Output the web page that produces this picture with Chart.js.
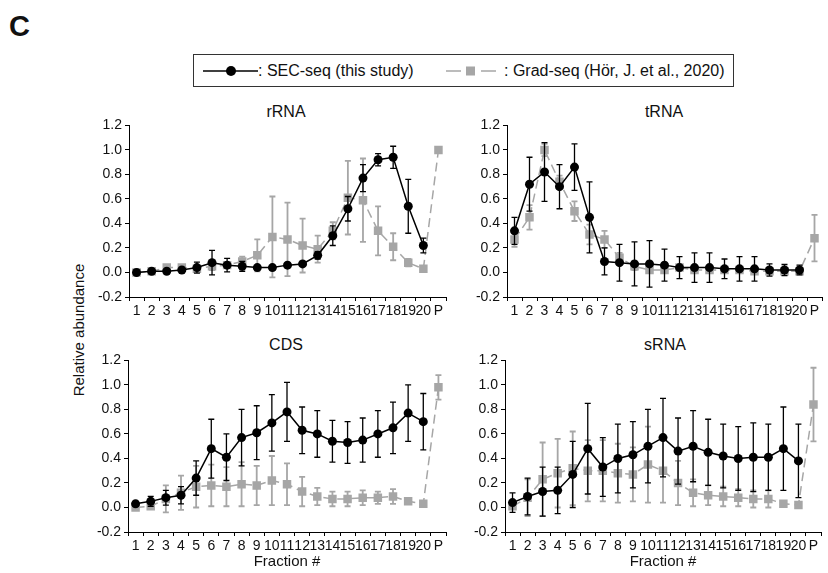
<!DOCTYPE html>
<html>
<head>
<meta charset="utf-8">
<script src="https://cdn.jsdelivr.net/npm/chart.js@4.4.1/dist/chart.umd.min.js"></script>
<style>
  html, body { margin: 0; padding: 0; background: #fff; }
  body { width: 828px; height: 573px; position: relative; overflow: hidden; font-family: "Liberation Sans", Arial, sans-serif; color: #111; }
  canvas { position: absolute; }
  .lbl { position: absolute; white-space: nowrap; }
  .title { font-size: 16px; line-height: 16px; transform: translateX(-50%); }
</style>
</head>
<body>
<div class="lbl" style="left:9px; top:12px; font-size:29px; line-height:29px; font-weight:bold;">C</div>

<div class="lbl" style="left:193px; top:54px; width:539px; height:31px; border:1px solid #333; box-sizing:content-box;">
  <svg width="60" height="31" style="position:absolute; left:8px; top:0;">
    <line x1="1" y1="16" x2="56" y2="16" stroke="#000" stroke-width="1.5"/>
    <circle cx="29" cy="16" r="5" fill="#000"/>
  </svg>
  <span style="position:absolute; left:64px; top:7px; font-size:16px; line-height:18px;">: SEC-seq (this study)</span>
  <svg width="60" height="31" style="position:absolute; left:250px; top:0;">
    <line x1="2" y1="16" x2="17" y2="16" stroke="#a6a6a6" stroke-width="1.5"/>
    <rect x="22" y="11.5" width="9" height="9" fill="#a6a6a6"/>
    <line x1="37" y1="16" x2="52" y2="16" stroke="#a6a6a6" stroke-width="1.5"/>
  </svg>
  <span style="position:absolute; left:310px; top:7px; font-size:16px; line-height:18px;">: Grad-seq (Hör, J. et al., 2020)</span>
</div>

<div class="lbl title" style="left:286px; top:104px;">rRNA</div>
<div class="lbl title" style="left:664px; top:104px;">tRNA</div>
<div class="lbl title" style="left:286px; top:337px;">CDS</div>
<div class="lbl title" style="left:665px; top:337px;">sRNA</div>

<div class="lbl" style="left:78px; top:330px; font-size:15px; line-height:15px; transform:translate(-50%,-50%) rotate(-90deg);">Relative abundance</div>

<canvas id="rrna" width="368" height="205" style="left:84px; top:114px;"></canvas>
<canvas id="trna" width="366" height="205" style="left:462px; top:114px;"></canvas>
<canvas id="cds" width="369" height="222" style="left:83px; top:349px;"></canvas>
<canvas id="srna" width="367" height="222" style="left:460px; top:349px;"></canvas>

<script>
const fractions = ["1","2","3","4","5","6","7","8","9","10","11","12","13","14","15","16","17","18","19","20","P"];

// rRNA
const secRrna = [0.00,0.01,0.01,0.02,0.04,0.08,0.06,0.05,0.04,0.04,0.06,0.07,0.14,0.30,0.52,0.77,0.92,0.94,0.54,0.22,null];
const secRrnaErr = [0.005,0.005,0.01,0.01,0.045,0.10,0.055,0.04,0.01,0.01,0.01,0.01,0.03,0.08,0.10,0.11,0.05,0.09,0.22,0.06,null];
const gradRrna = [0.00,0.01,0.04,0.04,0.03,0.05,0.06,0.09,0.14,0.29,0.27,0.22,0.19,0.34,0.61,0.59,0.34,0.21,0.08,0.03,1.00];
const gradRrnaErr = [0.005,0.005,0.01,0.01,0.01,0.03,0.02,0.04,0.13,0.33,0.30,0.22,0.11,0.07,0.30,0.34,0.20,0.11,0.03,0.01,0.005];

// tRNA
const secTrna = [0.34,0.72,0.82,0.70,0.86,0.45,0.09,0.08,0.07,0.07,0.06,0.04,0.04,0.04,0.03,0.03,0.03,0.02,0.02,0.02,null];
const secTrnaErr = [0.11,0.22,0.24,0.18,0.19,0.29,0.11,0.15,0.18,0.19,0.13,0.09,0.12,0.12,0.08,0.10,0.10,0.05,0.045,0.04,null];
const gradTrna = [0.27,0.45,1.00,0.74,0.50,0.31,0.27,0.12,0.05,0.02,0.02,0.04,0.02,0.02,0.02,0.02,0.01,0.01,0.01,0.01,0.28];
const gradTrnaErr = [0.06,0.10,0.05,0.05,0.08,0.08,0.07,0.04,0.03,0.02,0.02,0.02,0.02,0.02,0.02,0.02,0.01,0.01,0.01,0.01,0.19];

// CDS
const secCds = [0.03,0.05,0.08,0.10,0.24,0.48,0.41,0.57,0.61,0.69,0.78,0.63,0.60,0.54,0.53,0.55,0.60,0.65,0.77,0.70,null];
const secCdsErr = [0.02,0.04,0.06,0.07,0.14,0.24,0.19,0.23,0.22,0.23,0.24,0.19,0.19,0.17,0.17,0.18,0.19,0.21,0.23,0.23,null];
const gradCds = [0.00,0.01,0.07,0.12,0.17,0.18,0.17,0.19,0.18,0.22,0.19,0.13,0.09,0.07,0.07,0.08,0.08,0.09,0.05,0.03,0.98];
const gradCdsErr = [0.01,0.02,0.11,0.14,0.17,0.17,0.16,0.18,0.16,0.20,0.17,0.12,0.07,0.06,0.06,0.06,0.05,0.06,0.02,0.01,0.10];

// sRNA
const secSrna = [0.04,0.09,0.13,0.14,0.27,0.48,0.33,0.40,0.43,0.50,0.57,0.46,0.50,0.45,0.42,0.40,0.41,0.41,0.48,0.38,null];
const secSrnaErr = [0.08,0.15,0.20,0.19,0.27,0.37,0.24,0.28,0.27,0.30,0.32,0.27,0.29,0.27,0.26,0.26,0.28,0.27,0.34,0.30,null];
const gradSrna = [0.01,0.08,0.23,0.28,0.32,0.30,0.30,0.28,0.27,0.35,0.30,0.20,0.12,0.10,0.09,0.08,0.07,0.07,0.03,0.02,0.84];
const gradSrnaErr = [0.02,0.15,0.30,0.28,0.30,0.25,0.25,0.24,0.22,0.31,0.26,0.18,0.11,0.08,0.08,0.07,0.07,0.07,0.02,0.01,0.30];

const yTicks = [-0.2, 0, 0.2, 0.4, 0.6, 0.8, 1.0, 1.2];
const GREY = "#a6a6a6";
const FONT = "'Liberation Sans', Arial, sans-serif";

// draws each dataset's error bars right before that dataset's line
const errorBars = {
  id: "errorBars",
  beforeDatasetDraw(chart, args) {
    const ds = chart.data.datasets[args.index];
    if (!ds.errors) return;
    const ctx = chart.ctx;
    const x = chart.scales.x, y = chart.scales.y;
    ctx.save();
    ctx.strokeStyle = ds.errColor;
    ctx.lineWidth = ds.errWidth;
    ds.data.forEach((v, i) => {
      const e = ds.errors[i];
      if (v == null || e == null) return;
      const px = x.getPixelForValue(i);
      const top = y.getPixelForValue(v + e);
      const bot = y.getPixelForValue(v - e);
      ctx.beginPath();
      ctx.moveTo(px, top); ctx.lineTo(px, bot);
      ctx.moveTo(px - 3, top); ctx.lineTo(px + 3, top);
      ctx.moveTo(px - 3, bot); ctx.lineTo(px + 3, bot);
      ctx.stroke();
    });
    ctx.restore();
  }
};

function makePanel(id, sec, secErr, grad, gradErr, xTitle, padRight) {
  const ctx = document.getElementById(id).getContext("2d");
  return new Chart(ctx, {
    type: "line",
    data: {
      labels: fractions,
      datasets: [
        {
          label: "SEC-seq (this study)",
          data: sec,
          errors: secErr,
          errColor: "#000",
          errWidth: 1.3,
          borderColor: "#000",
          backgroundColor: "#000",
          borderWidth: 1.5,
          pointRadius: 4.5,
          pointBorderWidth: 0,
          tension: 0
        },
        {
          label: "Grad-seq (Hör, J. et al., 2020)",
          data: grad,
          errors: gradErr,
          errColor: GREY,
          errWidth: 1.8,
          borderColor: GREY,
          backgroundColor: GREY,
          borderWidth: 1.5,
          borderDash: [9, 5],
          pointStyle: "rect",
          pointRadius: 6,
          pointBorderWidth: 0,
          tension: 0
        }
      ]
    },
    options: {
      responsive: false,
      animation: false,
      devicePixelRatio: 1,
      layout: { padding: { top: 10, left: 0, right: padRight, bottom: 0 } },
      plugins: { legend: { display: false }, tooltip: { enabled: false } },
      scales: {
        x: {
          type: "category",
          offset: true,
          grid: { offset: true, drawOnChartArea: false, tickLength: 4, color: "#000", lineWidth: 1 },
          border: { color: "#000", width: 1 },
          ticks: { autoSkip: false, maxRotation: 0, padding: 2, color: "#111", font: { family: FONT, size: 14 } },
          title: { display: xTitle, text: "Fraction #", color: "#111", font: { family: FONT, size: 15 }, padding: { top: 0, bottom: 0 } },
          afterFit: (s) => { s.height = xTitle ? 39 : 22; }
        },
        y: {
          min: -0.2,
          max: 1.2,
          afterBuildTicks: (s) => { s.ticks = yTicks.map(v => ({ value: v })); },
          grid: { drawOnChartArea: false, tickLength: 4, color: "#000", lineWidth: 1 },
          border: { color: "#000", width: 1 },
          ticks: { padding: 3, color: "#111", font: { family: FONT, size: 14 }, callback: (v) => v.toFixed(1) },
          afterFit: (s) => { s.width = 45; }
        }
      }
    },
    plugins: [errorBars]
  });
}

makePanel("rrna", secRrna, secRrnaErr, gradRrna, gradRrnaErr, false, 1);
makePanel("trna", secTrna, secTrnaErr, gradTrna, gradTrnaErr, false, 0);
makePanel("cds", secCds, secCdsErr, gradCds, gradCdsErr, true, 1);
makePanel("srna", secSrna, secSrnaErr, gradSrna, gradSrnaErr, true, 1);
</script>
</body>
</html>
